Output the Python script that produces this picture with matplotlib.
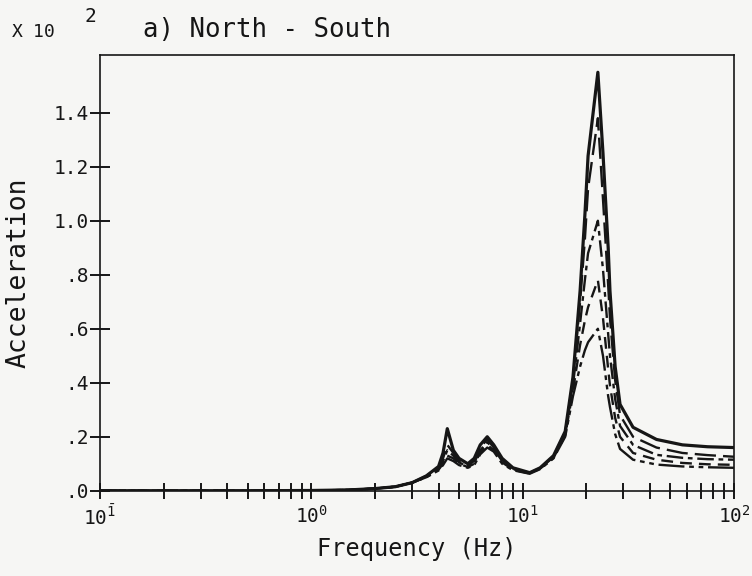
import numpy as np
import matplotlib
matplotlib.use("Agg")
import matplotlib.pyplot as plt
from matplotlib.ticker import LogLocator, FixedLocator, FixedFormatter, NullFormatter

plt.rcParams['font.family'] = ['DejaVu Sans Mono']
plt.rcParams['mathtext.fontset'] = 'dejavusans'

# frequency points (Hz) shared by all response curves
freq = [0.1, 0.5, 1.0, 1.5, 2.0, 2.5, 3.0, 3.5, 4.0, 4.2, 4.4, 4.7, 5.0, 5.5,
        5.9, 6.3, 6.8, 7.3, 8.0, 9.0, 10.8, 12.1, 14.0, 15.9, 17.3, 18.7,
        19.7, 20.4, 22.7, 24.0, 25.4, 25.9, 27.4, 28.9, 33.3, 43.0, 57.0,
        75.0, 100.0]

# acceleration (x 10^2)
acc_a = [0.0, 0.0, 0.001, 0.003, 0.008, 0.015, 0.03, 0.055, 0.09, 0.14, 0.23,
         0.15, 0.12, 0.10, 0.12, 0.17, 0.20, 0.17, 0.12, 0.085, 0.067, 0.085,
         0.13, 0.22, 0.42, 0.74, 1.02, 1.24, 1.55, 1.25, 0.90, 0.74, 0.46,
         0.32, 0.235, 0.19, 0.17, 0.163, 0.16]
acc_b = [0.0, 0.0, 0.001, 0.003, 0.008, 0.015, 0.03, 0.055, 0.085, 0.12, 0.17,
         0.14, 0.11, 0.095, 0.11, 0.16, 0.19, 0.16, 0.115, 0.083, 0.066, 0.084,
         0.128, 0.215, 0.41, 0.70, 0.93, 1.12, 1.38, 1.08, 0.76, 0.64, 0.41,
         0.28, 0.20, 0.16, 0.14, 0.132, 0.126]
acc_c = [0.0, 0.0, 0.001, 0.003, 0.008, 0.015, 0.03, 0.052, 0.08, 0.11, 0.15,
         0.13, 0.105, 0.09, 0.105, 0.15, 0.18, 0.155, 0.11, 0.08, 0.065, 0.083,
         0.125, 0.21, 0.39, 0.62, 0.78, 0.88, 1.00, 0.82, 0.58, 0.50, 0.34,
         0.24, 0.17, 0.133, 0.122, 0.117, 0.115]
acc_d = [0.0, 0.0, 0.001, 0.003, 0.008, 0.015, 0.03, 0.05, 0.078, 0.10, 0.13,
         0.12, 0.10, 0.088, 0.10, 0.14, 0.17, 0.15, 0.105, 0.078, 0.064, 0.082,
         0.122, 0.205, 0.37, 0.54, 0.63, 0.68, 0.78, 0.64, 0.45, 0.39, 0.27,
         0.20, 0.14, 0.115, 0.103, 0.098, 0.096]
acc_e = [0.0, 0.0, 0.001, 0.003, 0.008, 0.015, 0.03, 0.05, 0.075, 0.095, 0.12,
         0.11, 0.095, 0.085, 0.095, 0.135, 0.16, 0.145, 0.10, 0.076, 0.063,
         0.08, 0.12, 0.20, 0.35, 0.46, 0.52, 0.55, 0.60, 0.50, 0.35, 0.31,
         0.21, 0.155, 0.115, 0.097, 0.09, 0.087, 0.085]

y_ticks = [0.0, 0.2, 0.4, 0.6, 0.8, 1.0, 1.2, 1.4]
y_labels = ['.0', '.2', '.4', '.6', '.8', '1.0', '1.2', '1.4']
x_ticks = [0.1, 1, 10, 100]
x_labels = [r'$\mathtt{10^{\bar{1}}}$', r'$\mathtt{10^{0}}$',
            r'$\mathtt{10^{1}}$', r'$\mathtt{10^{2}}$']

fig = plt.figure(figsize=(7.52, 5.76), dpi=100, facecolor='#f6f6f4')
ax = fig.add_axes([0.133, 0.148, 0.843, 0.757])
ax.set_facecolor('#f6f6f4')

ink = '#161616'
ax.plot(freq, acc_a, color=ink, lw=2.3, ls='-')
ax.plot(freq, acc_b, color=ink, lw=1.7, ls=(0, (9, 3)))
ax.plot(freq, acc_c, color=ink, lw=1.7, ls=(0, (7, 2, 2, 2)))
ax.plot(freq, acc_d, color=ink, lw=1.7, ls=(0, (5, 3)))
ax.plot(freq, acc_e, color=ink, lw=1.7, ls=(0, (11, 2, 2, 2, 2, 2)))

ax.set_xscale('log')
ax.set_xlim(0.1, 100)
ax.set_ylim(0, 1.615)

for s in ax.spines.values():
    s.set_linewidth(1.2)
    s.set_color(ink)

ax.xaxis.set_major_locator(FixedLocator(x_ticks))
ax.xaxis.set_major_formatter(FixedFormatter(x_labels))
ax.xaxis.set_minor_locator(LogLocator(base=10, subs=np.arange(2, 10)))
ax.xaxis.set_minor_formatter(NullFormatter())
ax.yaxis.set_major_locator(FixedLocator(y_ticks))
ax.yaxis.set_major_formatter(FixedFormatter(y_labels))

ax.tick_params(axis='x', which='both', direction='inout', length=12,
               width=1.4, colors=ink, labelsize=14, pad=4)
ax.tick_params(axis='y', which='major', direction='inout', length=14,
               width=1.4, colors=ink, labelsize=14, pad=1)

ax.set_xlabel('Frequency (Hz)', fontsize=17, color=ink, labelpad=6)
ax.set_ylabel('Acceleration', fontsize=19, color=ink, labelpad=16)

fig.text(0.014, 0.935, r'X $\mathtt{10}$', fontsize=13, color=ink)
fig.text(0.112, 0.962, '2', fontsize=14, color=ink)
fig.text(0.19, 0.935, 'a) North - South', fontsize=18.5, color=ink)

fig.savefig('out.png', dpi=100, facecolor=fig.get_facecolor())
